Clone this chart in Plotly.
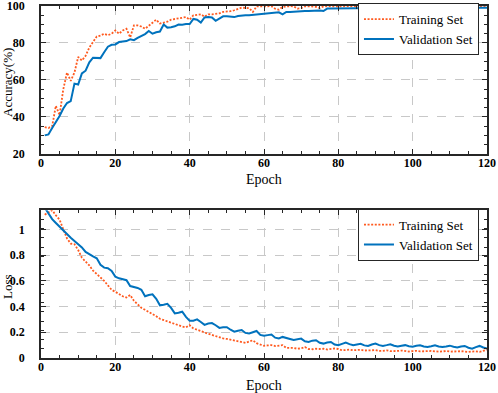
import plotly.graph_objects as go

epochs = list(range(1, 121))

train_acc = [
    34.4, 34.0, 35.0, 46.0, 41.0, 55.0, 64.0, 59.5, 64.0, 72.4,
    70.5, 73.0, 77.5, 80.5, 83.5, 84.0, 85.0, 84.2, 85.0, 86.8,
    85.0, 86.8, 87.7, 83.0, 89.5, 89.5, 88.9, 87.7, 89.5, 91.3,
    92.6, 90.5, 90.8, 91.5, 92.6, 93.0, 93.5, 94.0, 94.0, 92.6,
    95.0, 95.2, 95.5, 94.2, 95.5, 95.5, 95.8, 96.0, 96.8, 96.8,
    97.2, 97.7, 98.2, 99.1, 99.0, 98.8, 96.8, 99.8, 99.8, 99.9,
    99.8, 99.9, 98.5, 98.0, 99.5, 99.8, 99.9, 99.8, 98.6, 98.8,
    99.8, 99.9, 99.8, 99.5, 98.9, 99.8, 99.9, 99.8, 99.9, 99.9,
    99.8, 99.9, 99.9, 99.8, 99.9, 99.9, 99.9, 99.8, 99.9, 99.9,
    99.9, 99.8, 99.9, 99.9, 99.9, 99.9, 99.8, 99.9, 99.9, 99.9,
    99.9, 99.9, 99.8, 99.9, 99.9, 99.9, 99.9, 99.9, 99.8, 99.9,
    99.9, 99.9, 99.9, 99.9, 99.8, 99.9, 99.9, 99.9, 99.9, 99.9,
]

val_acc = [
    30.0, 30.5, 34.0, 37.0, 40.5, 44.5, 47.5, 48.5, 58.0, 57.5,
    63.5, 65.0, 69.5, 72.0, 72.0, 71.8, 75.0, 78.0, 79.0, 79.2,
    80.5, 80.7, 81.0, 82.0, 81.5, 82.8, 84.0, 84.8, 86.5, 85.0,
    85.8, 86.2, 90.0, 88.3, 88.5, 89.0, 90.0, 89.8, 90.2, 90.2,
    93.0, 92.6, 91.0, 93.8, 94.0, 93.8, 92.0, 93.0, 94.4, 94.4,
    94.0, 94.0, 94.6, 95.0, 95.0, 95.0, 95.2, 95.5, 95.9, 96.0,
    96.2, 96.4, 96.5, 96.6, 95.5, 96.8, 96.8, 97.0, 97.0, 97.2,
    97.3, 97.3, 97.4, 97.6, 97.6, 97.3, 98.6, 98.6, 98.6, 98.7,
    98.8, 98.8, 98.9, 98.9, 98.9, 99.0, 98.9, 98.9, 99.0, 99.0,
    99.0, 99.0, 98.9, 99.0, 99.0, 99.0, 99.0, 99.1, 99.0, 99.0,
    99.0, 99.1, 99.1, 99.0, 99.1, 99.1, 99.1, 99.0, 99.1, 99.1,
    99.1, 99.1, 99.1, 99.2, 99.1, 99.1, 99.2, 99.1, 99.1, 99.1,
]

train_loss = [
    1.115, 1.13, 1.15, 1.11, 1.076, 1.0, 0.93, 0.89, 0.885, 0.84,
    0.78, 0.75, 0.72, 0.68, 0.655, 0.63, 0.6, 0.565, 0.53, 0.515,
    0.495, 0.48, 0.47, 0.49, 0.445, 0.42, 0.39, 0.375, 0.36, 0.34,
    0.325, 0.305, 0.295, 0.285, 0.27, 0.262, 0.255, 0.245, 0.238, 0.255,
    0.23, 0.217, 0.21, 0.198, 0.188, 0.18, 0.17, 0.16, 0.152, 0.148,
    0.142, 0.135, 0.128, 0.12, 0.118, 0.128, 0.138, 0.115, 0.105, 0.095,
    0.098, 0.1, 0.093, 0.095, 0.1, 0.078, 0.08, 0.078, 0.072, 0.075,
    0.085, 0.07, 0.068, 0.072, 0.07, 0.072, 0.066, 0.068, 0.074, 0.07,
    0.06, 0.062, 0.065, 0.06, 0.06, 0.064, 0.058, 0.057, 0.06, 0.062,
    0.055, 0.056, 0.06, 0.053, 0.052, 0.055, 0.058, 0.053, 0.05, 0.054,
    0.056, 0.052, 0.05, 0.053, 0.055, 0.05, 0.049, 0.052, 0.054, 0.05,
    0.048, 0.051, 0.053, 0.049, 0.047, 0.05, 0.052, 0.048, 0.055, 0.065,
]

val_loss = [
    1.17, 1.12, 1.08, 1.05, 1.02, 0.99, 0.96, 0.935, 0.91, 0.885,
    0.86, 0.825, 0.805, 0.79, 0.775, 0.725, 0.703, 0.698, 0.677, 0.633,
    0.62, 0.612, 0.605, 0.56, 0.553, 0.545, 0.53, 0.48, 0.49, 0.495,
    0.46, 0.41, 0.415, 0.422, 0.39, 0.347, 0.352, 0.36, 0.32, 0.289,
    0.29, 0.3, 0.28, 0.258, 0.268, 0.272, 0.255, 0.234, 0.24, 0.24,
    0.22, 0.205, 0.212, 0.218, 0.195, 0.19, 0.2, 0.21, 0.18, 0.173,
    0.178, 0.183, 0.158, 0.152, 0.164, 0.158, 0.148, 0.14, 0.148, 0.151,
    0.13, 0.125, 0.135, 0.138, 0.118, 0.112, 0.12, 0.125, 0.105, 0.099,
    0.11, 0.12, 0.108, 0.099, 0.105, 0.11, 0.098, 0.094, 0.105, 0.112,
    0.1, 0.094, 0.1, 0.107, 0.095, 0.089, 0.095, 0.1, 0.092, 0.088,
    0.095, 0.099, 0.09, 0.086, 0.092, 0.099, 0.09, 0.085, 0.09, 0.096,
    0.088, 0.082, 0.09, 0.094, 0.08, 0.073, 0.085, 0.094, 0.082, 0.073,
]

x_ticks = [0, 20, 40, 60, 80, 100, 120]
acc_ticks = [20, 40, 60, 80, 100]
loss_ticks = [0, 0.2, 0.4, 0.6, 0.8, 1]

ORANGE = "#FF5A1F"
BLUE = "#0072BD"
FONT = "Liberation Serif"
DOT = "2px,1.6px"

fig = go.Figure()
fig.add_trace(go.Scatter(x=epochs, y=train_acc, name="Training Set", mode="lines",
                         line=dict(color=ORANGE, width=1.8, dash=DOT),
                         xaxis="x", yaxis="y", legend="legend"))
fig.add_trace(go.Scatter(x=epochs, y=val_acc, name="Validation Set", mode="lines",
                         line=dict(color=BLUE, width=2),
                         xaxis="x", yaxis="y", legend="legend"))
fig.add_trace(go.Scatter(x=epochs, y=train_loss, name="Training Set", mode="lines",
                         line=dict(color=ORANGE, width=1.8, dash=DOT),
                         xaxis="x2", yaxis="y2", legend="legend2"))
fig.add_trace(go.Scatter(x=epochs, y=val_loss, name="Validation Set", mode="lines",
                         line=dict(color=BLUE, width=2),
                         xaxis="x2", yaxis="y2", legend="legend2"))

MINOR = dict(ticks="inside", ticklen=3, tickcolor="#262626", showgrid=False)


def axis_style(**kw):
    d = dict(
        automargin=False,
        showline=True, linecolor="#262626", linewidth=1.5, mirror="ticks",
        ticks="inside", ticklen=5, tickwidth=1, tickcolor="#262626",
        showgrid=True, gridcolor="#c8c8c8", griddash="dash", gridwidth=1,
        zeroline=False, ticklabeloverflow="allow",
        tickfont=dict(family=FONT, size=12, color="#000000", weight="bold"),
    )
    d.update(kw)
    return d


legend_common = dict(xanchor="right", yanchor="top",
                     bgcolor="white", bordercolor="#262626", borderwidth=1,
                     font=dict(family=FONT, size=13, color="#000000"),
                     tracegroupgap=0)

fig.update_layout(
    template="none",
    width=498, height=393,
    margin=dict(l=41, r=11, t=6, b=35, autoexpand=False),
    paper_bgcolor="white", plot_bgcolor="white",
    font=dict(family=FONT, color="#000000"),
    xaxis=axis_style(domain=[0, 1], anchor="y", range=[0, 120], tickvals=x_ticks,
                     ticklabelstandoff=-3,
                     minor=dict(dtick=5, tick0=0, **MINOR)),
    yaxis=axis_style(domain=[0.58, 1], anchor="x", range=[20, 100], tickvals=acc_ticks,
                     ticklabelstandoff=12,
                     minor=dict(dtick=5, tick0=0, **MINOR)),
    xaxis2=axis_style(domain=[0, 1], anchor="y2", range=[0, 120], tickvals=x_ticks,
                      ticklabelstandoff=-3,
                      minor=dict(dtick=5, tick0=0, **MINOR)),
    yaxis2=axis_style(domain=[0, 0.42], anchor="x2", range=[0, 1.15], tickvals=loss_ticks,
                      ticklabelstandoff=12,
                      minor=dict(dtick=1.15 / 16, tick0=0, **MINOR)),
    legend=dict(x=0.982, y=1.008, **legend_common),
    legend2=dict(x=0.982, y=0.424, **legend_common),
)

title_font = dict(family=FONT, size=14, color="#000000")
ytitle_font = dict(family=FONT, size=13, color="#000000")
fig.add_annotation(text="Epoch", xref="paper", yref="paper", x=0.5, y=(357 - 179) / 352,
                   showarrow=False, font=title_font, xanchor="center", yanchor="middle")
fig.add_annotation(text="Epoch", xref="paper", yref="paper", x=0.5, y=(357 - 384) / 352,
                   showarrow=False, font=title_font, xanchor="center", yanchor="middle")
fig.add_annotation(text="Accuracy(%)", xref="paper", yref="paper", x=(7 - 41) / 446, y=(357 - 82) / 352,
                   showarrow=False, font=ytitle_font, textangle=-90, xanchor="center", yanchor="middle")
fig.add_annotation(text="Loss", xref="paper", yref="paper", x=(7 - 41) / 446, y=(357 - 286) / 352,
                   showarrow=False, font=ytitle_font, textangle=-90, xanchor="center", yanchor="middle")

fig.write_html("out.html", config={"displayModeBar": False},
               post_script="document.body.style.margin='0';")
